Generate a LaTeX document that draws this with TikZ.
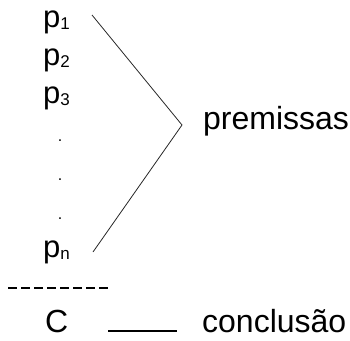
\documentclass[tikz,border=0pt]{standalone}
\usepackage{fontspec}
\setmainfont{Liberation Sans}
\usetikzlibrary{positioning,calc}
\newcommand{\psub}[1]{p\raisebox{-0.15ex}{\fontsize{17}{18}\selectfont #1}}
\tikzset{
  prem/.style={inner sep=0pt,anchor=base west,font=\fontsize{31}{36}\selectfont},
  pdot/.style={inner sep=0pt,anchor=base,font=\fontsize{16}{18}\selectfont},
  lbl/.style={inner sep=0pt,anchor=base west,font=\fontsize{32}{38}\selectfont},
  brace/.style={line width=0.8pt,black!85},
  sep/.style={line width=1.4pt,dash pattern=on 9pt off 4pt},
  link/.style={line width=1.4pt},
}
\begin{document}
\begin{tikzpicture}[x=1pt,y=-1pt]
\useasboundingbox (0,0) rectangle (350,340);
% premissas
\node[prem] (p1) at (43,27) {\psub{1}};
\node[prem] (p2) at (43,65) {\psub{2}};
\node[prem] (p3) at (43,103) {\psub{3}};
\node[pdot] (d1) at (60,141) {.};
\node[pdot] (d2) at (60,180) {.};
\node[pdot] (d3) at (60,219) {.};
\node[prem] (pn) at (43,257) {\psub{n}};
% chave
\coordinate (top) at (92,15);
\coordinate (tip) at (182,125);
\coordinate (bot) at (93,252);
\draw[brace] (top)--(tip)--(bot);
\node[lbl] (premissas) at (203,129) {premissas};
% conclusao
\coordinate (s1) at (8,288);
\coordinate (s2) at (108,288);
\draw[sep] (s1)--(s2);
\node[lbl] (c) at (45,332) {C};
\node[lbl] (concl) at (202,332) {conclusão};
\coordinate (l1) at (108,331);
\coordinate (l2) at (177,331);
\draw[link] (l1)--(l2);
\end{tikzpicture}
\end{document}
